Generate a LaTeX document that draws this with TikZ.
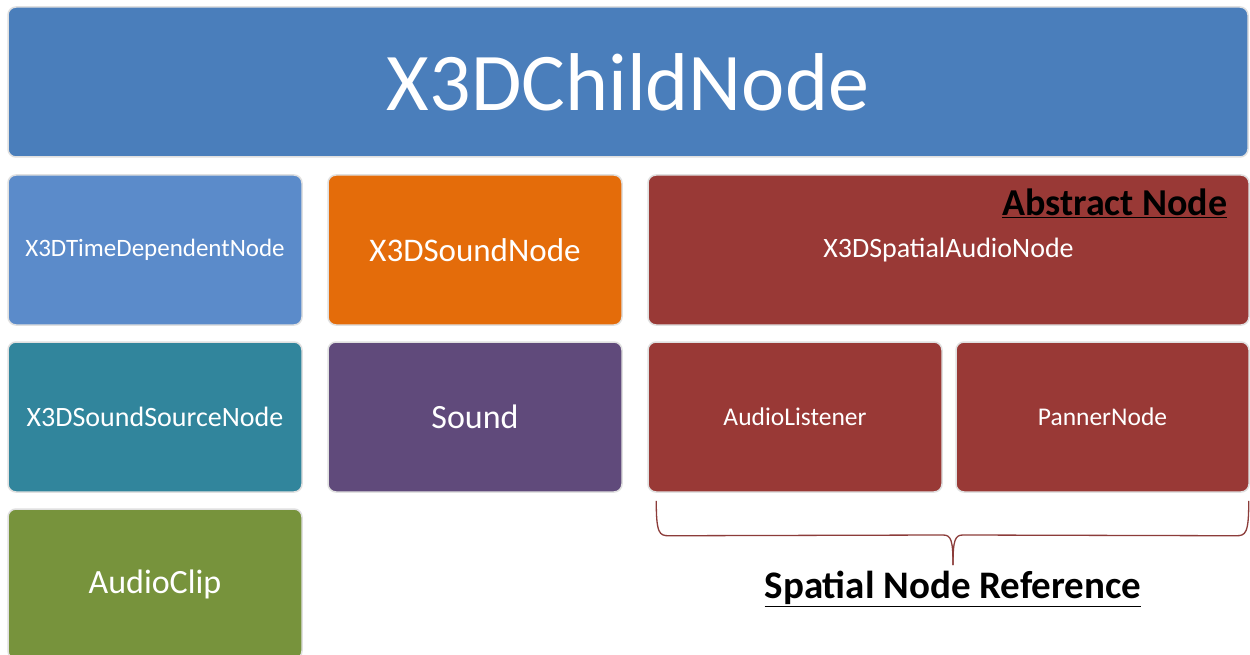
\documentclass[tikz,border=0pt]{standalone}
\usepackage{fontspec}
\setmainfont{Carlito}
\usepackage{xcolor}
\usetikzlibrary{calc}
\definecolor{childblue}{RGB}{74,126,187}
\definecolor{timeblue}{RGB}{91,139,202}
\definecolor{soundorange}{RGB}{228,108,10}
\definecolor{sourceteal}{RGB}{49,133,156}
\definecolor{soundpurple}{RGB}{96,74,123}
\definecolor{clipgreen}{RGB}{119,147,60}
\definecolor{spatialred}{RGB}{153,57,54}
\definecolor{bracered}{RGB}{140,60,58}
\newcommand{\fsz}[1]{\fontsize{#1}{#1}\selectfont}
\tikzset{
  % Kasten der Knotenhierarchie
  box/.style={rounded corners=8pt,draw=black!12,line width=1.5pt,text=white,
    inner sep=0pt,minimum height=150pt},
  box small/.style={box,minimum width=294pt},
  brace line/.style={draw=bracered,line width=1.3pt},
  ref label/.style={font=\fsz{39}\bfseries,text=black}
}
\begin{document}
\begin{tikzpicture}[x=1pt,y=-1pt]
  \useasboundingbox[fill=white] (0,0) rectangle (1250,655);
  % oberste Ebene
  \node[box,fill=childblue,minimum width=1240pt,font=\fsz{82}] (child) at (628,82) {X3DChildNode};
  % erste Reihe
  \node[box small,fill=timeblue,font=\fsz{25}] (timedep) at (155,250) {X3DTimeDependentNode};
  \node[box small,fill=soundorange,font=\fsz{33}] (soundnode) at (475,250) {X3DSoundNode};
  \node[box,fill=spatialred,minimum width=601pt,font=\fsz{28}] (spatial) at (948.5,250) {X3DSpatialAudioNode};
  \node[ref label,anchor=east,font=\fsz{38}\bfseries] (abstract) at (1231,203) {\underline{Abstract Node}};
  % zweite Reihe
  \node[box small,fill=sourceteal,font=\fsz{28}] (source) at (155,417) {X3DSoundSourceNode};
  \node[box small,fill=soundpurple,font=\fsz{34}] (sound) at (475,417) {Sound};
  \node[box small,fill=spatialred,font=\fsz{25.5}] (listener) at (795,417) {AudioListener};
  \node[box,fill=spatialred,minimum width=293pt,font=\fsz{25.5}] (panner) at (1102.5,417) {PannerNode};
  % dritte Reihe
  \node[box small,fill=clipgreen,font=\fsz{34}] (clip) at (155,584) {AudioClip};
  % Klammer unter den Raumknoten
  \coordinate (bl) at ($(listener.south west)+(9,8)$);
  \coordinate (br) at ($(panner.south east)+(-1,8)$);
  \coordinate (tip) at (953,565);
  \path[brace line] (bl) .. controls ($(bl)+(0,33)$) and ($(bl)+(3,35)$) .. ($(bl)+(13,35)$)
    -- (943,535) .. controls (951,535) and (953,540) .. (tip);
  \path[brace line] (br) .. controls ($(br)+(0,33)$) and ($(br)+(-3,35)$) .. ($(br)+(-13,35)$)
    -- (963,535) .. controls (955,535) and (953,540) .. (tip);
  \node[ref label] (spatialref) at (953,589) {\underline{Spatial Node Reference}};
\end{tikzpicture}
\end{document}
